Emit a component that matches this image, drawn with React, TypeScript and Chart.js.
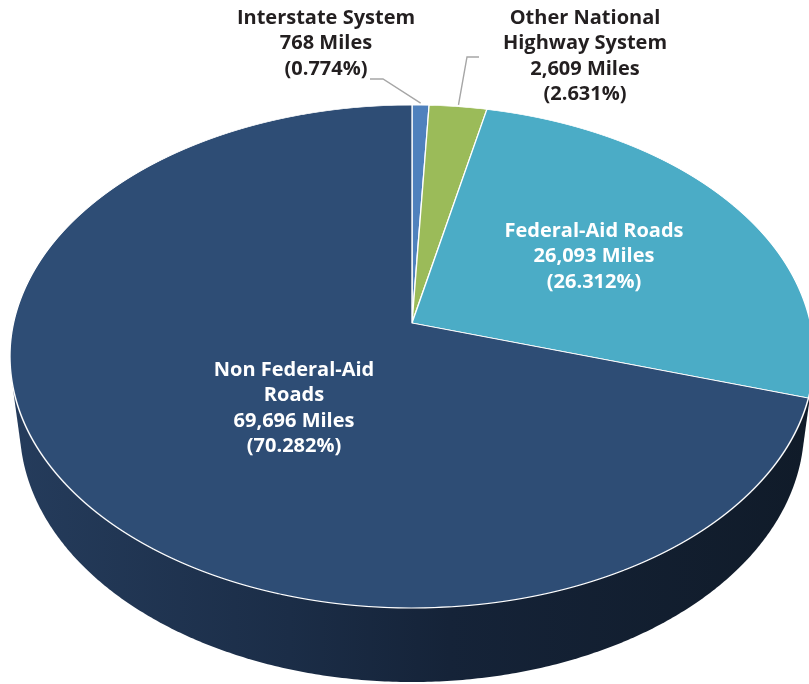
import React, { useEffect, useRef } from 'react';
import { Chart, registerables } from 'chart.js';

Chart.register(...registerables);

// ---------- data ----------
const categories = ['Interstate System', 'Other National Highway System', 'Federal-Aid Roads', 'Non Federal-Aid Roads'];
const miles = [768, 2609, 26093, 69696];
const percents = [0.774, 2.631, 26.312, 70.282];
const nameLines = [['Interstate System'], ['Other National', 'Highway System'], ['Federal-Aid Roads'], ['Non Federal-Aid', 'Roads']];
const sliceColors = ['#4f81bd', '#9bbb59', '#4bacc6', '#2e4d75'];

// ---------- perspective view of the pie (layout / style) ----------
const VIEW = { cx: 412, cy: 323, focal: 2347.7, radius: 0.1697, elevSin: 0.62, elevCos: 0.785, thickness: 0.0396 };

const LABEL_LAYOUT = [
  { x: 326, y: 18, color: '#231f20', leader: [[370, 79], [383, 79]] },
  { x: 585, y: 18, color: '#231f20', leader: [[479, 57], [467, 57]] },
  { x: 594, y: 231, color: '#ffffff', leader: null },
  { x: 294, y: 370, color: '#ffffff', leader: null },
];
const LINE_HEIGHT = 25.5;
const FONT = '700 20px "Open Sans", Lato, sans-serif';

function project(u: number, v: number, h: number) {
  const w = 1 + v * VIEW.elevCos - h * VIEW.elevSin;
  return {
    x: VIEW.cx + (VIEW.focal * u) / w,
    y: VIEW.cy - (VIEW.focal * (v * VIEW.elevSin + h * VIEW.elevCos)) / w,
  };
}

function convexHull(pts: { x: number; y: number }[]) {
  const p = pts.slice().sort((a, b) => a.x - b.x || a.y - b.y);
  const cross = (o: any, a: any, b: any) => (a.x - o.x) * (b.y - o.y) - (a.y - o.y) * (b.x - o.x);
  const lower: any[] = [];
  for (const q of p) {
    while (lower.length >= 2 && cross(lower[lower.length - 2], lower[lower.length - 1], q) <= 0) lower.pop();
    lower.push(q);
  }
  const upper: any[] = [];
  for (let i = p.length - 1; i >= 0; i--) {
    const q = p[i];
    while (upper.length >= 2 && cross(upper[upper.length - 2], upper[upper.length - 1], q) <= 0) upper.pop();
    upper.push(q);
  }
  upper.pop();
  lower.pop();
  return lower.concat(upper);
}

const pie3dPlugin = {
  id: 'pie3d',
  beforeDatasetsDraw(chart: any) {
    const ctx: CanvasRenderingContext2D = chart.ctx;
    const meta = chart.getDatasetMeta(0);
    const arcs = meta.data;
    if (!arcs.length) return false;
    const mx = arcs[0].x;
    const my = arcs[0].y;
    const Rc = arcs[0].outerRadius;
    const dpr = chart.currentDevicePixelRatio || 1;
    const { cx, cy, focal: K, radius: r, elevSin: s, elevCos: c, thickness: t } = VIEW;

    // side wall (extrusion)
    const pts: { x: number; y: number }[] = [];
    for (let i = 0; i < 720; i++) {
      const phi = (i / 720) * Math.PI * 2;
      const u = r * Math.sin(phi);
      const v = r * Math.cos(phi);
      pts.push(project(u, v, 0));
      pts.push(project(u, v, -t));
    }
    const hull = convexHull(pts);
    ctx.save();
    ctx.setTransform(dpr, 0, 0, dpr, 0, 0);
    ctx.beginPath();
    ctx.rect(0, cy + 45, chart.width, chart.height);
    ctx.clip();
    const grad = ctx.createLinearGradient(10, 0, 809, 0);
    grad.addColorStop(0, '#253c5c');
    grad.addColorStop(0.35, '#1b2d47');
    grad.addColorStop(0.55, '#152338');
    grad.addColorStop(1, '#101b29');
    ctx.fillStyle = grad;
    ctx.beginPath();
    hull.forEach((p, i) => (i ? ctx.lineTo(p.x, p.y) : ctx.moveTo(p.x, p.y)));
    ctx.closePath();
    ctx.fill();
    ctx.restore();

    // top face: Chart.js arcs drawn row by row through the perspective mapping
    const topY = project(0, r, 0).y;
    const botY = project(0, -r, 0).y;
    for (let y0 = Math.floor(topY) - 3; y0 <= Math.ceil(botY) + 3; y0++) {
      const Yc = y0 + 0.5;
      const d = Yc - cy;
      const v = -d / (K * s + d * c);
      const w = 1 + v * c;
      if (w <= 0) continue;
      const sy0 = my - (v * Rc) / r;
      const a = (K * r) / (Rc * w);
      const e = (K * s * r) / (Rc * w * w);
      ctx.save();
      ctx.setTransform(dpr, 0, 0, dpr, 0, 0);
      ctx.beginPath();
      ctx.rect(0, y0, chart.width, 1);
      ctx.clip();
      ctx.setTransform(a * dpr, 0, 0, e * dpr, (cx - a * mx) * dpr, (Yc - e * sy0) * dpr);
      for (const arc of arcs) arc.draw(ctx);
      ctx.restore();
    }
    return false;
  },
  afterDraw(chart: any) {
    const ctx: CanvasRenderingContext2D = chart.ctx;
    const total = miles.reduce((acc, m) => acc + m, 0);
    const r = VIEW.radius;
    let cum = 0;
    ctx.save();
    miles.forEach((m, i) => {
      const mid = ((cum + m / 2) / total) * Math.PI * 2;
      cum += m;
      const lay = LABEL_LAYOUT[i];
      if (lay.leader) {
        const anchor = project(r * 1.01 * Math.sin(mid), r * 1.01 * Math.cos(mid), 0);
        ctx.strokeStyle = '#a6a6a6';
        ctx.lineWidth = 1.4;
        ctx.beginPath();
        ctx.moveTo(lay.leader[0][0], lay.leader[0][1]);
        for (let k = 1; k < lay.leader.length; k++) ctx.lineTo(lay.leader[k][0], lay.leader[k][1]);
        ctx.lineTo(anchor.x, anchor.y);
        ctx.stroke();
      }
      const lines = [
        ...nameLines[i],
        `${m.toLocaleString('en-US')} Miles`,
        `(${percents[i].toFixed(3)}%)`,
      ];
      ctx.fillStyle = lay.color;
      ctx.font = FONT;
      ctx.textAlign = 'center';
      ctx.textBaseline = 'middle';
      lines.forEach((ln, k) => ctx.fillText(ln, lay.x, lay.y + k * LINE_HEIGHT));
    });
    ctx.restore();
  },
};

export default function App() {
  const canvasRef = useRef<HTMLCanvasElement | null>(null);
  useEffect(() => {
    document.body.style.margin = '0';
    const canvas = canvasRef.current;
    if (!canvas) return;
    const chart = new Chart(canvas, {
      type: 'pie',
      data: {
        labels: categories,
        datasets: [
          {
            data: miles,
            backgroundColor: sliceColors,
            borderColor: '#ffffff',
            borderWidth: 1.2,
          },
        ],
      },
      options: {
        responsive: false,
        animation: false,
        events: [],
        layout: { padding: 0 },
        plugins: { legend: { display: false }, tooltip: { enabled: false } },
      },
      plugins: [pie3dPlugin as any],
    });
    return () => chart.destroy();
  }, []);
  return (
    <div style={{ position: 'fixed', left: 0, top: 0, width: 809, height: 684, background: '#ffffff' }}>
      <canvas ref={canvasRef} width={809} height={684} style={{ display: 'block' }} />
    </div>
  );
}
